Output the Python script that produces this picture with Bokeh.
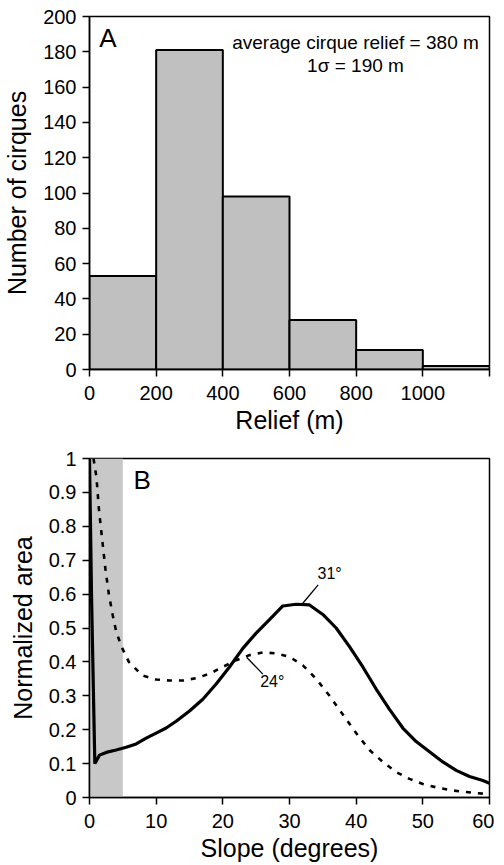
from bokeh.plotting import figure
from bokeh.models import FixedTicker, BoxAnnotation, Label
from bokeh.layouts import column
from bokeh.embed import file_html
from bokeh.resources import INLINE

# ---------------- Panel A data ----------------
relief_bin_left = [0, 200, 400, 600, 800, 1000]
relief_bin_right = [200, 400, 600, 800, 1000, 1200]
cirque_counts = [53, 181, 98, 28, 11, 2]
relief_ticks = [0, 200, 400, 600, 800, 1000, 1200]
count_ticks = [0, 20, 40, 60, 80, 100, 120, 140, 160, 180, 200]

# ---------------- Panel B data ----------------
slope_solid = [0, 0.3, 0.8, 1.5, 2.5, 4, 5.5, 7, 8.5, 10, 11.5, 13, 15, 17, 19, 21,
               23, 25, 27, 29, 31, 33, 35, 37, 39, 41, 43, 45, 47, 49, 51, 53, 55,
               57, 59, 60]
area_solid = [1.0, 0.6, 0.10, 0.125, 0.133, 0.14, 0.148, 0.158, 0.175, 0.19, 0.205,
              0.225, 0.255, 0.29, 0.335, 0.385, 0.44, 0.485, 0.525, 0.565, 0.57,
              0.568, 0.54, 0.50, 0.445, 0.385, 0.32, 0.26, 0.205, 0.165, 0.135,
              0.105, 0.08, 0.062, 0.05, 0.042]
slope_dashed = [0.6, 1.05, 1.4, 1.9, 2.4, 2.9, 3.5, 4.0, 4.8, 5.9, 7.9, 10, 12, 14,
                16, 18, 20, 22, 24, 26, 28, 30, 32, 34, 36, 38, 40, 42, 44, 46, 48,
                50, 52, 54, 56, 58, 60]
area_dashed = [1.0, 0.944, 0.853, 0.761, 0.672, 0.60, 0.536, 0.49, 0.445, 0.40, 0.36,
               0.348, 0.345, 0.345, 0.352, 0.365, 0.385, 0.405, 0.42, 0.428, 0.425,
               0.415, 0.39, 0.35, 0.30, 0.245, 0.19, 0.14, 0.105, 0.075, 0.055, 0.04,
               0.03, 0.022, 0.017, 0.013, 0.01]
slope_ticks = [0, 10, 20, 30, 40, 50, 60]
area_ticks = [0, 0.1, 0.2, 0.3, 0.4, 0.5, 0.6, 0.7, 0.8, 0.9, 1]
shaded_slope_max = 5

FONT = "Liberation Sans"


def style(p):
    p.grid.visible = False
    p.outline_line_color = "black"
    p.outline_line_width = 1.5
    p.background_fill_color = "white"
    p.border_fill_color = "white"
    for ax in (p.xaxis, p.yaxis):
        ax.axis_line_color = "black"
        ax.axis_line_width = 1.5
        ax.major_tick_line_color = "black"
        ax.major_tick_line_width = 1.5
        ax.major_tick_in = 0
        ax.major_tick_out = 7
        ax.minor_tick_line_color = None
        ax.major_label_text_font = FONT
        ax.major_label_text_font_size = "20px"
        ax.major_label_text_color = "black"
        ax.axis_label_text_font = FONT
        ax.axis_label_text_font_size = "25px"
        ax.axis_label_text_font_style = "normal"
        ax.axis_label_text_color = "black"
    p.xaxis.major_label_standoff = 9
    p.xaxis.axis_label_standoff = 3
    p.yaxis.major_label_standoff = 6
    p.yaxis.axis_label_standoff = 9


# ---------------- Panel A ----------------
p1 = figure(frame_width=400, frame_height=353, x_range=(0, 1200), y_range=(0, 200),
            output_backend="svg", toolbar_location=None,
            min_border_left=89, min_border_right=5, min_border_top=16,
            min_border_bottom=5)
style(p1)
p1.quad(left=relief_bin_left, right=relief_bin_right, top=cirque_counts, bottom=0,
        fill_color="#c0c0c0", line_color="black", line_width=2)
p1.xaxis.ticker = FixedTicker(ticks=relief_ticks)
p1.xaxis.major_label_overrides = {1200: ""}
p1.yaxis.ticker = FixedTicker(ticks=count_ticks)
p1.xaxis.axis_label = "Relief (m)"
p1.yaxis.axis_label = "Number of cirques"
p1.add_layout(Label(x=29, y=188, text="A", text_font=FONT, text_font_size="26px",
                    text_baseline="middle", text_align="left", text_color="black"))
p1.add_layout(Label(x=798, y=185, text="average cirque relief = 380 m", text_font=FONT,
                    text_font_size="19px", text_baseline="middle", text_align="center",
                    text_color="black"))
p1.add_layout(Label(x=798, y=172, text="1\u03c3 = 190 m", text_font=FONT,
                    text_font_size="19px", text_baseline="middle", text_align="center",
                    text_color="black"))

# ---------------- Panel B ----------------
p2 = figure(frame_width=400, frame_height=339, x_range=(0, 60), y_range=(0, 1),
            output_backend="svg", toolbar_location=None,
            min_border_left=89, min_border_right=5, min_border_top=22,
            min_border_bottom=5)
style(p2)
p2.add_layout(BoxAnnotation(left=0, right=shaded_slope_max, fill_color="#c8c8c8",
                            fill_alpha=1.0, line_color=None, level="underlay"))
p2.line(slope_dashed, area_dashed, line_color="black", line_width=2.6,
        line_dash="5 7")
p2.line(slope_solid, area_solid, line_color="black", line_width=3.2)
p2.xaxis.ticker = FixedTicker(ticks=slope_ticks)
p2.yaxis.ticker = FixedTicker(ticks=area_ticks)
p2.yaxis.major_label_overrides = {0: "0", 1: "1"}
p2.xaxis.axis_label = "Slope (degrees)"
p2.yaxis.axis_label = "Normalized area"
p2.add_layout(Label(x=6.6, y=0.937, text="B", text_font=FONT, text_font_size="26px",
                    text_baseline="middle", text_align="left", text_color="black"))
# peak annotations
p2.segment(x0=[32.0, 23.6], y0=[0.573, 0.413], x1=[34.3, 26.0], y1=[0.627, 0.364],
           line_color="black", line_width=1.3)
p2.add_layout(Label(x=34.2, y=0.661, text="31\u00b0", text_font=FONT,
                    text_font_size="16px", text_baseline="middle", text_align="left",
                    text_color="black"))
p2.add_layout(Label(x=25.6, y=0.342, text="24\u00b0", text_font=FONT,
                    text_font_size="16px", text_baseline="middle", text_align="left",
                    text_color="black"))

layout = column(p1, p2, spacing=0)
open("out.html", "w").write(file_html(layout, INLINE))
